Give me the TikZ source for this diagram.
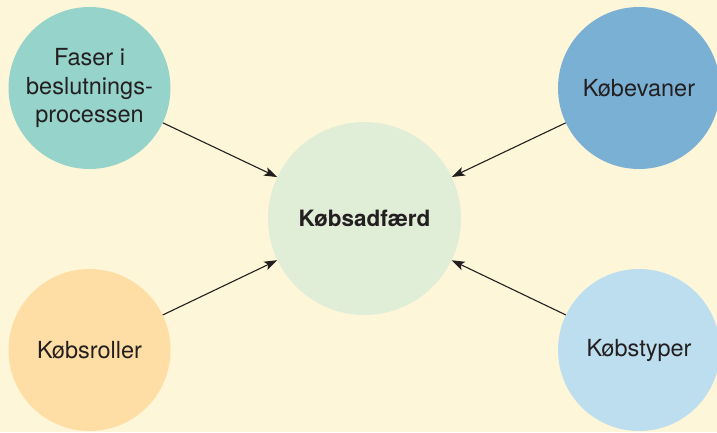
\documentclass[tikz,border=0pt]{standalone}
\usepackage{fontspec}
\setmainfont{TeX Gyre Heros}
\usetikzlibrary{arrows.meta}
\definecolor{bgcol}{HTML}{FEF6D8}
\definecolor{tealcol}{HTML}{96D3CB}
\definecolor{bluecol}{HTML}{7AB0D4}
\definecolor{peachcol}{HTML}{FEDEA4}
\definecolor{skycol}{HTML}{BDDEEF}
\definecolor{palegreen}{HTML}{E0EED8}
\definecolor{inkcol}{HTML}{231F20}
\tikzset{
  bubble/.style={circle, inner sep=0pt, minimum size=162pt, text=inkcol,
    font=\fontsize{23.5}{28.5}\selectfont, align=center},
  hub/.style={circle, inner sep=0pt, minimum size=193pt, fill=palegreen, text=inkcol,
    font=\fontsize{22.5}{27}\selectfont\bfseries},
  link/.style={draw=inkcol, line width=1.1pt, -{Stealth[length=13pt, width=9pt, inset=3pt]}}
}
\begin{document}
\begin{tikzpicture}[x=1pt, y=1pt]
  \fill[bgcol] (0,0) rectangle (717,432);
  \useasboundingbox (0,0) rectangle (717,432);
  \node[hub] (c) at (364.5,213.5) {Købsadfærd};
  \node[bubble, fill=tealcol] (tl) at (89.5,344) {Faser i\\beslutnings-\\processen};
  \node[bubble, fill=bluecol] (tr) at (639,344) {Købevaner};
  \node[bubble, fill=peachcol] (bl) at (89.5,82) {Købsroller};
  \node[bubble, fill=skycol] (br) at (639,82) {Købstyper};
  \draw[link] (tl) -- (c);
  \draw[link] (tr) -- (c);
  \draw[link] (bl) -- (c);
  \draw[link] (br) -- (c);
\end{tikzpicture}
\end{document}
